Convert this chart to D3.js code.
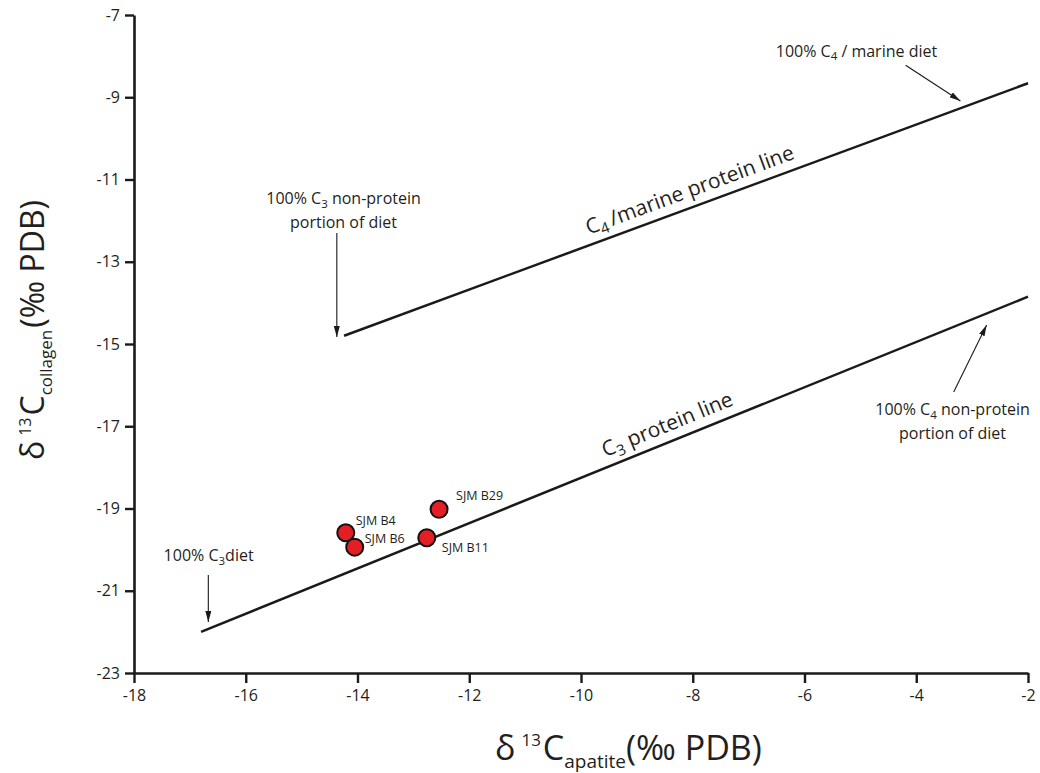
<!DOCTYPE html>
<html>
<head>
<meta charset="utf-8">
<script src="https://cdn.jsdelivr.net/npm/d3@7"></script>
<style>
body{margin:0;background:#fff;}
text{font-family:"Open Sans",sans-serif;fill:#231f20;}
</style>
</head>
<body>
<div id="chart"></div>
<script>
//Carbon isotope plot: collagen vs apatite

//data
const samples = ["SJM B4", "SJM B6", "SJM B11", "SJM B29"];
const apatite = [-14.21, -14.05, -12.76, -12.54];
const collagen = [-19.59, -19.94, -19.71, -19.02];
const xTicks = [-18, -16, -14, -12, -10, -8, -6, -4, -2];
const yTicks = [-23, -21, -19, -17, -15, -13, -11, -9, -7];
const c3Line = [[-16.8, -22.0], [-2, -13.85]];
const c4Line = [[-14.24, -14.8], [-2, -8.66]];
//annotation arrows, [from, to] in data units
const arrows = [
    [[-14.37, -12.3], [-14.37, -14.83]],
    [[-16.67, -20.62], [-16.67, -21.76]],
    [[-4.19, -8.22], [-3.21, -9.09]],
    [[-3.33, -16.17], [-2.74, -14.54]]
];

//layout
const margin = {top: 15, right: 12, bottom: 100, left: 134};
const width = 1040 - margin.left - margin.right;
const height = 773 - margin.top - margin.bottom;
const ptColor = "#e31e24";
const lineColor = "#1a1a1a";
//label offsets from each point (px)
const labelOffset = [[10, -8], [10, -4], [15, 14], [17, -9]];

const svg = d3.select("#chart")
    .append("svg")
    .attr("width", 1040)
    .attr("height", 773);

svg.append("rect")
    .attr("width", "100%")
    .attr("height", "100%")
    .attr("fill", "#ffffff");

const g = svg.append("g")
    .attr("transform", `translate(${margin.left},${margin.top})`);

const x = d3.scaleLinear().domain([-18, -2]).range([0, width]);
const y = d3.scaleLinear().domain([-23, -7]).range([height, 0]);

// X axis
const xAxis = g.append("g")
    .attr("transform", `translate(0,${height})`)
    .call(d3.axisBottom(x).tickValues(xTicks).tickSize(10).tickSizeOuter(0).tickPadding(7));

// Y axis
const yAxis = g.append("g")
    .call(d3.axisLeft(y).tickValues(yTicks).tickSize(9).tickSizeOuter(0).tickPadding(5));

[xAxis, yAxis].forEach(a => {
    a.attr("font-size", 16).attr("font-family", null);
    a.select(".domain").attr("stroke", lineColor).attr("stroke-width", 2.6);
    a.selectAll(".tick line").attr("stroke", lineColor).attr("stroke-width", 2.4);
    a.selectAll(".tick text")
        .style("font-family", "'Open Sans', sans-serif")
        .style("font-size", "16px")
        .attr("fill", "#231f20")
        .text(d => "-" + Math.abs(d));
});

// reference lines
const line = d3.line().x(d => x(d[0])).y(d => y(d[1]));
[c3Line, c4Line].forEach(l => {
    g.append("path")
        .datum(l)
        .attr("d", line)
        .attr("fill", "none")
        .attr("stroke", lineColor)
        .attr("stroke-width", 2.5);
});

// text builder with subscripts
function addParts(txt, parts, fs) {
    let shift = 0;
    parts.forEach(p => {
        const ts = txt.append("tspan");
        if (p.sub) {
            ts.attr("dy", fs * 0.22 - shift).style("font-size", (fs * 0.72) + "px");
            shift = fs * 0.22;
        } else {
            ts.attr("dy", -shift);
            shift = 0;
        }
        ts.text(p.t);
    });
}

// line labels, rotated along the line
function lineLabel(l, startX, off, fs, parts) {
    const x0 = x(l[0][0]), y0 = y(l[0][1]), x1 = x(l[1][0]), y1 = y(l[1][1]);
    const ang = Math.atan2(y1 - y0, x1 - x0);
    const t = (x(startX) - x0) / (x1 - x0);
    const px = x0 + t * (x1 - x0) + Math.sin(ang) * off;
    const py = y0 + t * (y1 - y0) - Math.cos(ang) * off;
    const txt = g.append("text")
        .attr("transform", `translate(${px},${py}) rotate(${ang * 180 / Math.PI})`)
        .style("font-size", fs + "px");
    addParts(txt, parts, fs);
}

lineLabel(c3Line, -9.5, 10, 21, [{t: "C"}, {t: "3", sub: true}, {t: " protein line"}]);
lineLabel(c4Line, -9.8, 10, 21, [{t: "C"}, {t: "4", sub: true}, {t: "\u2009/marine protein line"}]);

// arrows
const defs = svg.append("defs");
defs.append("marker")
    .attr("id", "arrowhead")
    .attr("viewBox", "0 0 11 6")
    .attr("refX", 11)
    .attr("refY", 3)
    .attr("markerWidth", 11)
    .attr("markerHeight", 6)
    .attr("markerUnits", "userSpaceOnUse")
    .attr("orient", "auto")
    .append("path")
    .attr("d", "M0,0 L11,3 L0,6 Z")
    .attr("fill", lineColor);

g.selectAll(".arrow")
    .data(arrows)
    .enter()
    .append("line")
    .attr("class", "arrow")
    .attr("x1", d => x(d[0][0]))
    .attr("y1", d => y(d[0][1]))
    .attr("x2", d => x(d[1][0]))
    .attr("y2", d => y(d[1][1]))
    .attr("stroke", lineColor)
    .attr("stroke-width", 1.1)
    .attr("marker-end", "url(#arrowhead)");

// annotation texts
function annot(ax, ay, anchor, lines) {
    const fs = 16;
    lines.forEach((parts, i) => {
        const txt = g.append("text")
            .attr("x", x(ax))
            .attr("y", y(ay) + i * 24)
            .attr("text-anchor", anchor)
            .style("font-size", fs + "px");
        addParts(txt, parts, fs);
    });
}
annot(-14.25, -11.6, "middle", [
    [{t: "100% C"}, {t: "3", sub: true}, {t: " non-protein"}],
    [{t: "portion of diet"}]
]);
annot(-17.47, -20.28, "start", [
    [{t: "100% C"}, {t: "3", sub: true}, {t: "diet"}]
]);
annot(-5.07, -8.02, "middle", [
    [{t: "100% C"}, {t: "4", sub: true}, {t: " / marine diet"}]
]);
annot(-3.35, -16.73, "middle", [
    [{t: "100% C"}, {t: "4", sub: true}, {t: " non-protein"}],
    [{t: "portion of diet"}]
]);

// points
g.append("g")
    .selectAll("circle")
    .data(samples)
    .enter()
    .append("circle")
    .attr("cx", (d, i) => x(apatite[i]))
    .attr("cy", (d, i) => y(collagen[i]))
    .attr("r", 8.5)
    .attr("fill", ptColor)
    .attr("stroke", "#111")
    .attr("stroke-width", 2);

g.append("g")
    .selectAll("text")
    .data(samples)
    .enter()
    .append("text")
    .attr("x", (d, i) => x(apatite[i]) + labelOffset[i][0])
    .attr("y", (d, i) => y(collagen[i]) + labelOffset[i][1])
    .style("font-size", "12.5px")
    .text(d => d);

// axis titles
const xTitle = svg.append("text")
    .attr("x", 495)
    .attr("y", 760)
    .style("font-size", "34px");
xTitle.append("tspan").text("\u03b4");
xTitle.append("tspan").attr("dx", 6).attr("dy", -14).style("font-size", "17px").text("13");
xTitle.append("tspan").attr("dx", 2).attr("dy", 14).text("C");
xTitle.append("tspan").attr("dy", 8).style("font-size", "19px").text("apatite");
xTitle.append("tspan").attr("dy", -8).text("(\u2030 PDB)");

const yTitle = svg.append("text")
    .attr("transform", "translate(44,460) rotate(-90)")
    .style("font-size", "32px");
yTitle.append("tspan").text("\u03b4");
yTitle.append("tspan").attr("dx", 5).attr("dy", -13).style("font-size", "16px").text("13");
yTitle.append("tspan").attr("dx", 2).attr("dy", 13).text("C");
yTitle.append("tspan").attr("dy", 8).style("font-size", "17px").text("collagen");
yTitle.append("tspan").attr("dx", 2).attr("dy", -8).text("(\u2030 PDB)");
</script>
</body>
</html>
